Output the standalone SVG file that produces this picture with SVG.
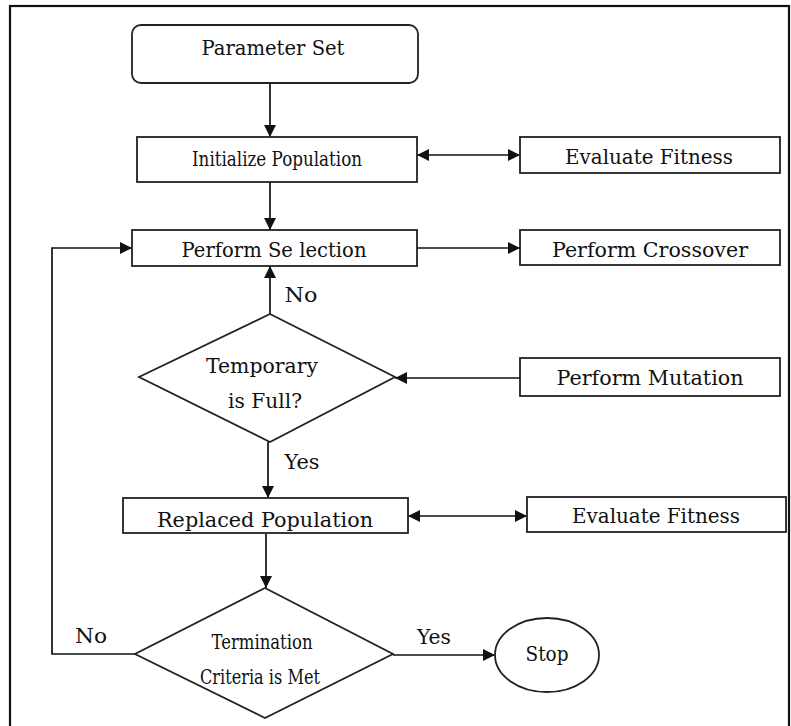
<svg xmlns="http://www.w3.org/2000/svg" width="791" height="726" viewBox="0 0 791 726">
<style>
.box{fill:#fff;stroke:#222;stroke-width:1.8}
.ln{fill:none;stroke:#111;stroke-width:1.7}
.t{font-family:"DejaVu Serif","Liberation Serif",serif;font-size:21px;fill:#111;text-anchor:middle}
.frame{fill:none;stroke:#111;stroke-width:2.2}
</style>
<defs>
<marker id="ah" viewBox="0 0 10 10" refX="10" refY="5" markerWidth="13" markerHeight="12" markerUnits="userSpaceOnUse" orient="auto-start-reverse">
<path d="M0,0 L10,5 L0,10 Z" fill="#111"/>
</marker>
</defs>
<rect class="frame" x="10" y="6" width="779" height="740"/>
<g id="connectors">
<line class="ln" x1="270" y1="83" x2="270" y2="137" marker-end="url(#ah)"/>
<line class="ln" x1="417" y1="155" x2="520" y2="155" marker-start="url(#ah)" marker-end="url(#ah)"/>
<line class="ln" x1="270" y1="182" x2="270" y2="230" marker-end="url(#ah)"/>
<line class="ln" x1="417" y1="248" x2="520" y2="248" marker-end="url(#ah)"/>
<line class="ln" x1="270" y1="314" x2="270" y2="266" marker-end="url(#ah)"/>
<line class="ln" x1="520" y1="378" x2="395" y2="378" marker-end="url(#ah)"/>
<line class="ln" x1="268" y1="442" x2="268" y2="498" marker-end="url(#ah)"/>
<line class="ln" x1="408" y1="516" x2="527" y2="516" marker-start="url(#ah)" marker-end="url(#ah)"/>
<line class="ln" x1="266" y1="534" x2="266" y2="588" marker-end="url(#ah)"/>
<polyline class="ln" points="135,654 52,654 52,248 132,248" marker-end="url(#ah)"/>
<line class="ln" x1="393" y1="655" x2="495" y2="655" marker-end="url(#ah)"/>
<text class="t" x="301" y="302" textLength="33" lengthAdjust="spacingAndGlyphs">No</text>
<text class="t" x="302" y="469" textLength="35" lengthAdjust="spacingAndGlyphs">Yes</text>
<text class="t" x="91" y="643" textLength="32" lengthAdjust="spacingAndGlyphs">No</text>
<text class="t" x="434" y="644" textLength="34" lengthAdjust="spacingAndGlyphs">Yes</text>
</g>
<g id="parameter-set">
<rect class="box" x="132" y="25" width="286" height="58" rx="9"/>
<text class="t" x="273" y="55" textLength="143" lengthAdjust="spacingAndGlyphs">Parameter Set</text>
</g>
<g id="initialize-population">
<rect class="box" x="137" y="137" width="280" height="45"/>
<text class="t" x="277" y="166" textLength="170" lengthAdjust="spacingAndGlyphs">Initialize Population</text>
</g>
<g id="evaluate-fitness-1">
<rect class="box" x="520" y="137" width="260" height="36"/>
<text class="t" x="649" y="164" textLength="168" lengthAdjust="spacingAndGlyphs">Evaluate Fitness</text>
</g>
<g id="perform-selection">
<rect class="box" x="132" y="230" width="285" height="36"/>
<text class="t" x="274" y="257" textLength="185" lengthAdjust="spacingAndGlyphs">Perform Se lection</text>
</g>
<g id="perform-crossover">
<rect class="box" x="520" y="230" width="260" height="35"/>
<text class="t" x="650" y="257" textLength="196" lengthAdjust="spacingAndGlyphs">Perform Crossover</text>
</g>
<g id="temporary-full">
<polygon class="box" points="270,314 395,377 270,442 139,377"/>
<text class="t" x="262" y="373" textLength="112" lengthAdjust="spacingAndGlyphs">Temporary</text>
<text class="t" x="265" y="408" textLength="74" lengthAdjust="spacingAndGlyphs">is Full?</text>
</g>
<g id="perform-mutation">
<rect class="box" x="520" y="358" width="260" height="38"/>
<text class="t" x="650" y="385" textLength="187" lengthAdjust="spacingAndGlyphs">Perform Mutation</text>
</g>
<g id="replaced-population">
<rect class="box" x="123" y="498" width="285" height="35"/>
<text class="t" x="265" y="527" textLength="216" lengthAdjust="spacingAndGlyphs">Replaced Population</text>
</g>
<g id="evaluate-fitness-2">
<rect class="box" x="527" y="497" width="259" height="35"/>
<text class="t" x="656" y="523" textLength="168" lengthAdjust="spacingAndGlyphs">Evaluate Fitness</text>
</g>
<g id="termination">
<polygon class="box" points="265,588 393,654 265,718 135,654"/>
<text class="t" x="262" y="649" textLength="101" lengthAdjust="spacingAndGlyphs">Termination</text>
<text class="t" x="260" y="684" textLength="120" lengthAdjust="spacingAndGlyphs">Criteria is Met</text>
</g>
<g id="stop">
<ellipse class="box" cx="547" cy="655" rx="52" ry="37"/>
<text class="t" x="547" y="661" textLength="43" lengthAdjust="spacingAndGlyphs">Stop</text>
</g>
</svg>
